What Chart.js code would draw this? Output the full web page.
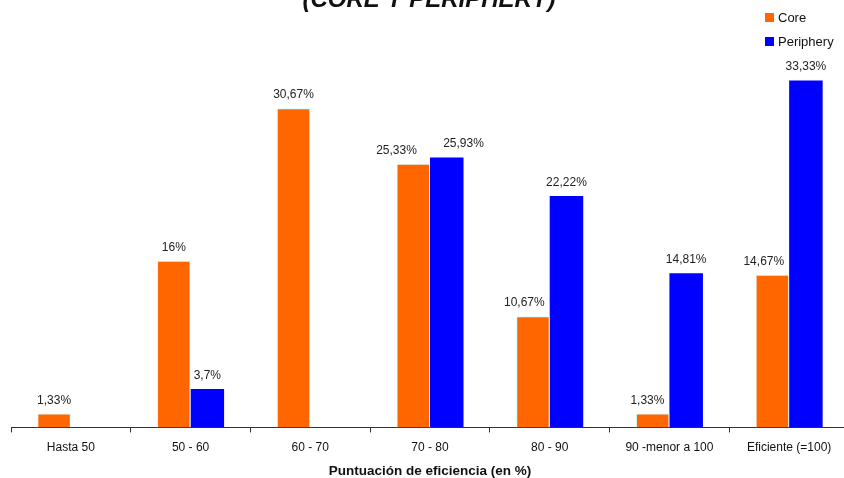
<!DOCTYPE html>
<html>
<head>
<meta charset="utf-8">
<script src="https://cdn.jsdelivr.net/npm/chart.js@4"></script>
<style>
  html, body { margin: 0; padding: 0; background: #fff; overflow: hidden; }
  #wrap { position: relative; width: 850px; height: 479px; }
</style>
</head>
<body>
<div id="wrap"><canvas id="efChart"></canvas></div>
<script>
const categories = ["Hasta 50", "50 - 60", "60 - 70", "70 - 80", "80 - 90", "90 -menor a 100", "Eficiente (=100)"];
const coreValues = [1.33, 16, 30.67, 25.33, 10.67, 1.33, 14.67];
const peripheryValues = [0, 3.7, 0, 25.93, 22.22, 14.81, 33.33];
const seriesNames = ["Core", "Periphery"];
const chartTitle = "(CORE Y PERIPHERY)";
const axisTitle = "Puntuación de eficiencia (en %)";

const FONT = "'Liberation Sans', Arial, sans-serif";

// percentage labels above each bar, with comma decimals;
// labels that would hit the neighbouring bar or label get moved sideways
const barLabels = {
    id: "barLabels",
    afterDatasetsDraw(chart) {
        const ctx = chart.ctx;
        ctx.save();
        ctx.font = "12px " + FONT;
        ctx.fillStyle = "#222";
        ctx.textAlign = "center";
        ctx.textBaseline = "alphabetic";
        const metaA = chart.getDatasetMeta(0).data;
        const metaB = chart.getDatasetMeta(1).data;
        const dsA = chart.data.datasets[0].data;
        const dsB = chart.data.datasets[1].data;
        const fmt = v => String(v).replace(".", ",") + "%";

        categories.forEach(function (c, j) {
            const a = metaA[j], b = metaB[j];
            const ta = fmt(dsA[j]), tb = fmt(dsB[j]);
            const wa = ctx.measureText(ta).width, wb = ctx.measureText(tb).width;
            let xa = a.x, xb = b.x;
            const ya = a.y - 10, yb = b.y - 10;
            const bLeft = b.x - b.width / 2;
            if (dsA[j] && dsB[j]) {
                if (Math.abs(ya - yb) < 13) {
                    // labels side by side: push both outward
                    if (xa + wa / 2 > xb - wb / 2) {
                        xa -= a.width / 2;
                        xb += b.width / 2;
                    }
                } else if (b.y < ya && xa + wa / 2 > bLeft - 5) {
                    // taller neighbour bar: keep label clear of it
                    xa = bLeft - 5 - wa / 2;
                }
            }
            if (dsA[j]) ctx.fillText(ta, xa, ya);
            if (dsB[j]) ctx.fillText(tb, xb, yb);
        });
        ctx.restore();
    }
};

// cut-off title at the top and the stacked legend at the top right
const extras = {
    id: "extras",
    afterDraw(chart) {
        const ctx = chart.ctx;
        ctx.save();
        ctx.font = "italic bold 24px " + FONT;
        ctx.fillStyle = "#111";
        ctx.textAlign = "center";
        ctx.textBaseline = "alphabetic";
        ctx.fillText(chartTitle, 429, 7);

        ctx.font = "13px " + FONT;
        ctx.textAlign = "left";
        chart.data.datasets.forEach(function (ds, i) {
            const y = 17 + i * 24;
            ctx.fillStyle = ds.backgroundColor;
            ctx.fillRect(765, y - 4, 9, 9);
            ctx.fillStyle = "#111";
            ctx.textBaseline = "middle";
            ctx.fillText(ds.label, 778, y + 1);
        });
        ctx.restore();
    }
};

new Chart(document.getElementById("efChart").getContext("2d"), {
    type: "bar",
    data: {
        labels: categories,
        datasets: [
            {
                label: seriesNames[0],
                data: coreValues,
                backgroundColor: "#FF6600",
                borderColor: "#CCFFFF",
                borderWidth: 1
            },
            {
                label: seriesNames[1],
                data: peripheryValues,
                backgroundColor: "#0000FF",
                borderColor: "#0000FF",
                borderWidth: 0
            }
        ]
    },
    options: {
        responsive: true,
        maintainAspectRatio: false,
        animation: false,
        layout: { padding: { left: 11, right: 1, top: 11, bottom: 0 } },
        datasets: {
            bar: { categoryPercentage: 0.56, barPercentage: 1 }
        },
        plugins: {
            legend: { display: false },
            title: { display: false },
            tooltip: { enabled: false }
        },
        scales: {
            y: {
                display: false,
                min: 0,
                max: 40
            },
            x: {
                grid: {
                    drawOnChartArea: false,
                    drawTicks: true,
                    tickLength: 5,
                    color: "#333",
                    offset: true
                },
                border: { color: "#333", width: 1 },
                ticks: {
                    color: "#111",
                    padding: 8,
                    maxRotation: 0,
                    autoSkip: false,
                    font: { family: FONT, size: 12 }
                },
                title: {
                    display: true,
                    text: axisTitle,
                    color: "#111",
                    padding: { top: 0, bottom: 0 },
                    font: { family: FONT, size: 13.5, weight: "bold" }
                }
            }
        }
    },
    plugins: [barLabels, extras]
});
</script>
</body>
</html>
